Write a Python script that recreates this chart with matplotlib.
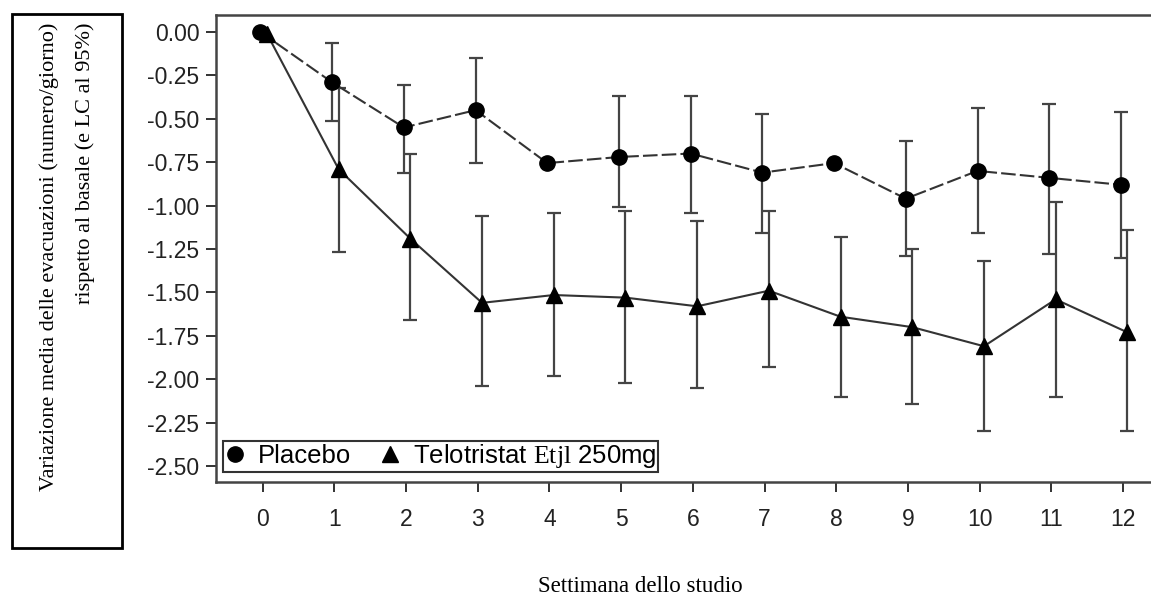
import numpy as np
import matplotlib
matplotlib.use('Agg')
import matplotlib.pyplot as plt
from matplotlib.patches import Rectangle
from matplotlib.lines import Line2D

plt.rcParams['font.family'] = 'Liberation Sans'
plt.rcParams['mathtext.fontset'] = 'custom'
plt.rcParams['mathtext.rm'] = 'Liberation Serif'

nan = np.nan
weeks = np.arange(13)
week_labels = [str(w) for w in weeks]
y_ticks = [0.00, -0.25, -0.50, -0.75, -1.00, -1.25, -1.50, -1.75, -2.00, -2.25, -2.50]

placebo_mean = [0.00, -0.29, -0.55, -0.45, -0.755, -0.72, -0.70, -0.81, -0.755, -0.96, -0.80, -0.84, -0.88]
placebo_lo = [nan, -0.51, -0.81, -0.755, nan, -1.01, -1.04, -1.16, nan, -1.29, -1.16, -1.28, -1.30]
placebo_hi = [nan, -0.065, -0.305, -0.15, nan, -0.37, -0.37, -0.47, nan, -0.63, -0.44, -0.415, -0.46]

telo_mean = [-0.01, -0.79, -1.19, -1.56, -1.515, -1.53, -1.58, -1.49, -1.64, -1.70, -1.81, -1.54, -1.73]
telo_lo = [nan, -1.27, -1.66, -2.04, -1.98, -2.02, -2.05, -1.93, -2.10, -2.14, -2.30, -2.10, -2.30]
telo_hi = [nan, -0.32, -0.70, -1.06, -1.04, -1.03, -1.09, -1.03, -1.18, -1.25, -1.32, -0.98, -1.14]

placebo_label = 'Placebo'
telo_label = r'Telotristat $\mathrm{Etjl}$ 250mg'
ylabel = 'Variazione media delle evacuazioni (numero/giorno)\nrispetto al basale (e LC al 95%)'
xlabel = 'Settimana dello studio'

W, H = 1151, 600
fig = plt.figure(figsize=(W / 100, H / 100), dpi=100)
ax = fig.add_axes([216 / W, 118 / H, 1 - 216 / W + 0.01, 467 / H])


def draw(mean, lo, hi, dx, marker, ls):
    mean = np.array(mean)
    lo = np.array(lo)
    hi = np.array(hi)
    yerr = np.vstack([mean - lo, hi - mean])
    ax.errorbar(weeks + dx, mean, yerr=yerr, fmt='none', ecolor='#444444',
                elinewidth=1.6, capsize=5, capthick=1.6, zorder=2)
    ax.plot(weeks + dx, mean, color='#333333', lw=1.5, ls=ls, zorder=3)
    ax.plot(weeks + dx, mean, marker, color='black', ms=11, ls='none', zorder=4)


draw(placebo_mean, placebo_lo, placebo_hi, -0.03, 'o', (0, (7, 2)))
draw(telo_mean, telo_lo, telo_hi, 0.06, '^', '-')

ax.set_xlim(-0.65, 12.55)
ax.set_ylim(-2.592, 0.098)
ax.set_xticks(weeks)
ax.set_xticklabels(week_labels)
ax.set_yticks(y_ticks)
ax.set_yticklabels(['%.2f' % v for v in y_ticks])
ax.tick_params(axis='both', direction='out', length=7, width=1.3, colors='#222222', labelsize=16.5)
ax.tick_params(axis='x', pad=12)
ax.tick_params(axis='y', pad=5)
for s in ['left', 'bottom', 'top']:
    ax.spines[s].set_linewidth(1.8)
    ax.spines[s].set_color('#444444')
ax.spines['right'].set_visible(False)

handles = [Line2D([], [], marker='o', color='black', ls='none', ms=11),
           Line2D([], [], marker='^', color='black', ls='none', ms=11)]
leg = ax.legend(handles, [placebo_label, telo_label], loc='lower left',
                bbox_to_anchor=(7 / 935, 10 / 467), borderaxespad=0, ncol=2,
                fontsize=18.5, frameon=True, fancybox=False, handlelength=0.8,
                handletextpad=0.5, columnspacing=1.1, borderpad=0.06)
leg.get_frame().set_edgecolor('black')
leg.get_frame().set_linewidth(1.5)

fig.patches.append(Rectangle((12 / W, (H - 548) / H), 110 / W, 534 / H,
                             transform=fig.transFigure, fill=False,
                             edgecolor='black', lw=2))
fig.text(67 / W, (H - 23) / H, ylabel, rotation=90, ha='center', va='top',
         multialignment='right', family='Liberation Serif', fontsize=16,
         linespacing=2.1)
fig.text(640 / W, (H - 586) / H, xlabel, ha='center', va='center',
         family='Liberation Serif', fontsize=16.5)

fig.savefig('out.png', dpi=100)
